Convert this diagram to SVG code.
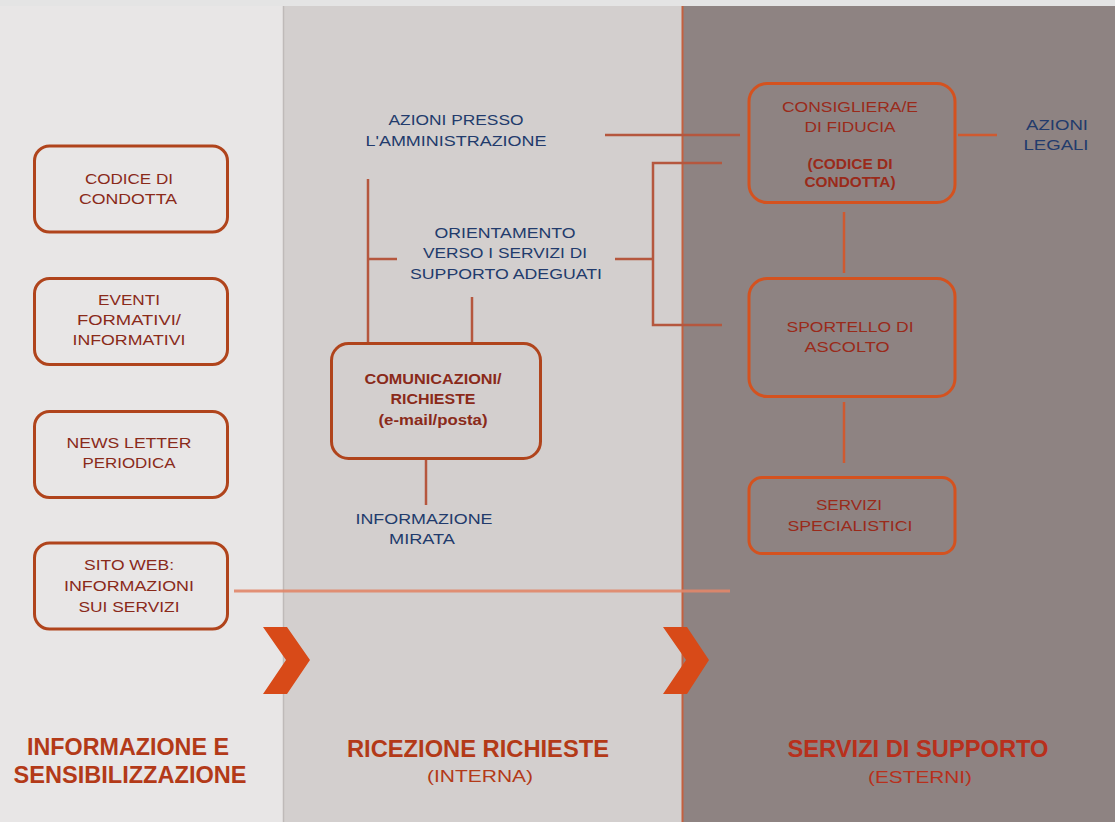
<svg xmlns="http://www.w3.org/2000/svg" width="1115" height="822" viewBox="0 0 1115 822">
<style>
text{font-family:"Liberation Sans",Arial,sans-serif;text-anchor:middle}
.bx1{fill:none;stroke:#b0441c;stroke-width:3}
.bx3{fill:none;stroke:#d4521f;stroke-width:3}
.t1{fill:#8a2a1a;font-size:15px}
.t3{fill:#9a2a1a;font-size:15px}
.tb{fill:#8a2a1a;font-size:14px;font-weight:bold}
.nv{fill:#223b6c;font-size:15px}
.hd{fill:#b33a18;font-size:23px;font-weight:bold}
.hd3{fill:#b8301c;font-size:23px;font-weight:bold}
.sub{fill:#b33a18;font-size:17px}
.sub3{fill:#b8301c;font-size:17px}
.cn{stroke:#b5573e;stroke-width:2.5;fill:none}
.cn3{stroke:#cf5a30;stroke-width:2.5;fill:none}
.chev{fill:#d84a18}
</style>
<rect x="0" y="0" width="1115" height="822" fill="#e4e4e4"/>
<rect x="0" y="6" width="283" height="816" fill="#e8e6e6"/>
<rect x="283" y="6" width="399" height="816" fill="#d3cfce"/>
<rect x="682" y="6" width="433" height="816" fill="#8e8382"/>
<line x1="283.5" y1="6" x2="283.5" y2="822" stroke="#bfbab9" stroke-width="1.5"/>
<line x1="682.5" y1="6" x2="682.5" y2="822" stroke="#c4603f" stroke-width="2"/>

<g id="connectors">
<line class="cn" x1="605" y1="135" x2="740" y2="135"/>
<line class="cn" x1="368" y1="179" x2="368" y2="343"/>
<line class="cn" x1="368" y1="259" x2="397" y2="259"/>
<line class="cn" x1="615" y1="259" x2="653" y2="259"/>
<polyline class="cn" points="722,163 653,163 653,325 722,325"/>
<line class="cn" x1="472" y1="297" x2="472" y2="343"/>
<line class="cn" x1="426" y1="459" x2="426" y2="505"/>
<line class="cn3" x1="958" y1="135" x2="997" y2="135"/>
<line class="cn3" x1="844" y1="212" x2="844" y2="273"/>
<line class="cn3" x1="844" y1="402" x2="844" y2="463"/>
<line x1="234" y1="591" x2="730" y2="591" stroke="#e2876a" stroke-width="3" opacity="0.9"/>
</g>

<g id="chevrons">
<polygon class="chev" points="263,627 287,627 310,660 287,694 263,694 286,660"/>
<polygon class="chev" points="663,627 687,627 709,660 687,694 663,694 686,660"/>
</g>

<g id="codice">
<rect class="bx1" x="34.5" y="146" width="193" height="86" rx="15"/>
<text class="t1" x="129" y="184" textLength="88" lengthAdjust="spacingAndGlyphs">CODICE DI</text>
<text class="t1" x="128" y="204" textLength="98" lengthAdjust="spacingAndGlyphs">CONDOTTA</text>
</g>
<g id="eventi">
<rect class="bx1" x="34.5" y="278.5" width="193" height="86" rx="15"/>
<text class="t1" x="129" y="305" textLength="62" lengthAdjust="spacingAndGlyphs">EVENTI</text>
<text class="t1" x="129" y="325" textLength="104" lengthAdjust="spacingAndGlyphs">FORMATIVI/</text>
<text class="t1" x="129" y="345" textLength="113" lengthAdjust="spacingAndGlyphs">INFORMATIVI</text>
</g>
<g id="newsletter">
<rect class="bx1" x="34.5" y="411.5" width="193" height="86" rx="15"/>
<text class="t1" x="129" y="448" textLength="125" lengthAdjust="spacingAndGlyphs">NEWS LETTER</text>
<text class="t1" x="129" y="468" textLength="93" lengthAdjust="spacingAndGlyphs">PERIODICA</text>
</g>
<g id="sitoweb">
<rect class="bx1" x="34.5" y="543" width="193" height="86" rx="15"/>
<text class="t1" x="129" y="570" textLength="90" lengthAdjust="spacingAndGlyphs">SITO WEB:</text>
<text class="t1" x="129" y="591" textLength="130" lengthAdjust="spacingAndGlyphs">INFORMAZIONI</text>
<text class="t1" x="129" y="612" textLength="101" lengthAdjust="spacingAndGlyphs">SUI SERVIZI</text>
</g>

<g id="azioni-presso">
<text class="nv" x="456" y="125" textLength="135" lengthAdjust="spacingAndGlyphs">AZIONI PRESSO</text>
<text class="nv" x="456" y="146" textLength="181" lengthAdjust="spacingAndGlyphs">L'AMMINISTRAZIONE</text>
</g>
<g id="orientamento">
<text class="nv" x="505" y="238" textLength="141" lengthAdjust="spacingAndGlyphs">ORIENTAMENTO</text>
<text class="nv" x="505" y="258" textLength="164" lengthAdjust="spacingAndGlyphs">VERSO I SERVIZI DI</text>
<text class="nv" x="506" y="279" textLength="192" lengthAdjust="spacingAndGlyphs">SUPPORTO ADEGUATI</text>
</g>
<g id="comunicazioni">
<rect class="bx1" x="331.5" y="343.5" width="209" height="115" rx="17"/>
<text class="tb" x="433" y="384" textLength="137" lengthAdjust="spacingAndGlyphs">COMUNICAZIONI/</text>
<text class="tb" x="433" y="404" textLength="85" lengthAdjust="spacingAndGlyphs">RICHIESTE</text>
<text class="tb" x="433" y="425" textLength="109" lengthAdjust="spacingAndGlyphs">(e-mail/posta)</text>
</g>
<g id="informazione-mirata">
<text class="nv" x="424" y="524" textLength="137" lengthAdjust="spacingAndGlyphs">INFORMAZIONE</text>
<text class="nv" x="422" y="544" textLength="66" lengthAdjust="spacingAndGlyphs">MIRATA</text>
</g>

<g id="consigliera">
<rect class="bx3" x="749" y="83.5" width="206" height="119" rx="18"/>
<text class="t3" x="850" y="112" textLength="136" lengthAdjust="spacingAndGlyphs">CONSIGLIERA/E</text>
<text class="t3" x="850" y="132" textLength="91" lengthAdjust="spacingAndGlyphs">DI FIDUCIA</text>
<text class="tb" x="850" y="169" style="fill:#9a2a1a" textLength="85" lengthAdjust="spacingAndGlyphs">(CODICE DI</text>
<text class="tb" x="850" y="187" style="fill:#9a2a1a" textLength="91" lengthAdjust="spacingAndGlyphs">CONDOTTA)</text>
</g>
<g id="azioni-legali">
<text class="nv" x="1057" y="130" textLength="62" lengthAdjust="spacingAndGlyphs">AZIONI</text>
<text class="nv" x="1056" y="150" textLength="65" lengthAdjust="spacingAndGlyphs">LEGALI</text>
</g>
<g id="sportello">
<rect class="bx3" x="749" y="278.5" width="206" height="118" rx="18"/>
<text class="t3" x="850" y="332" textLength="127" lengthAdjust="spacingAndGlyphs">SPORTELLO DI</text>
<text class="t3" x="847" y="352" textLength="85" lengthAdjust="spacingAndGlyphs">ASCOLTO</text>
</g>
<g id="servizi-specialistici">
<rect class="bx3" x="749" y="477.5" width="206" height="76" rx="13"/>
<text class="t3" x="849" y="510" textLength="66" lengthAdjust="spacingAndGlyphs">SERVIZI</text>
<text class="t3" x="850" y="531" textLength="125" lengthAdjust="spacingAndGlyphs">SPECIALISTICI</text>
</g>

<g id="fase-informazione">
<text class="hd" x="128" y="755" textLength="202" lengthAdjust="spacingAndGlyphs">INFORMAZIONE E</text>
<text class="hd" x="130" y="783" textLength="233" lengthAdjust="spacingAndGlyphs">SENSIBILIZZAZIONE</text>
</g>
<g id="fase-ricezione">
<text class="hd" x="478" y="757" textLength="262" lengthAdjust="spacingAndGlyphs">RICEZIONE RICHIESTE</text>
<text class="sub" x="480" y="782" textLength="106" lengthAdjust="spacingAndGlyphs">(INTERNA)</text>
</g>
<g id="fase-servizi">
<text class="hd3" x="918" y="757" textLength="261" lengthAdjust="spacingAndGlyphs">SERVIZI DI SUPPORTO</text>
<text class="sub3" x="920" y="783" textLength="104" lengthAdjust="spacingAndGlyphs">(ESTERNI)</text>
</g>
</svg>
